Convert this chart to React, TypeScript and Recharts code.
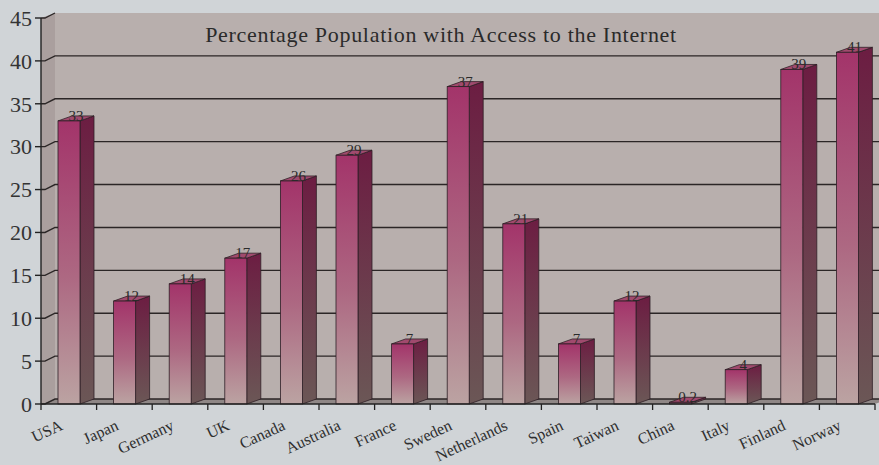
import { BarChart, Bar, XAxis, YAxis, CartesianGrid, ReferenceArea, LabelList } from "recharts";

const countries = [
  "USA", "Japan", "Germany", "UK", "Canada", "Australia", "France", "Sweden",
  "Netherlands", "Spain", "Taiwan", "China", "Italy", "Finland", "Norway",
];
const access = [33, 12, 14, 17, 26, 29, 7, 37, 21, 7, 12, 0.2, 4, 39, 41];
const yTicks = [0, 5, 10, 15, 20, 25, 30, 35, 40, 45];

const data = countries.map((c, i) => ({ country: c, value: access[i] }));

const DX = 14; // depth offset of the 3d look
const DY = 5;
const SERIF = "'Liberation Serif', 'Times New Roman', serif";

const Wall = (props: any) => {
  const { x, y, width, height } = props;
  const b = y + height;
  return (
    <g>
      <rect x={x + DX} y={y - DY} width={width + DX} height={height} fill="#b8afad" />
      <polygon
        points={`${x},${y} ${x + DX},${y - DY} ${x + DX},${b - DY} ${x},${b}`}
        fill="#aa9f9e"
      />
      <polygon
        points={`${x},${b} ${x + DX},${b - DY} ${x + width + DX},${b - DY} ${x + width},${b}`}
        fill="#8f8786"
      />
    </g>
  );
};

const gridLine = (props: any) => {
  const { x1, y1, x2, index } = props;
  if (y1 < 25) {
    return (
      <path key={`g${index}`} d={`M${x1},${y1} L${x1 + 4},${y1} L${x1 + DX},${y1 - DY}`} stroke="#2b2626" strokeWidth={1.3} fill="none" />
    );
  }
  return (
    <path
      key={`g${index}`}
      d={`M${x1},${y1} L${x1 + 4},${y1} L${x1 + DX},${y1 - DY} L${x2 + DX},${y1 - DY}`}
      stroke="#2b2626"
      strokeWidth={1.4}
      fill="none"
    />
  );
};

const Bar3D = (props: any) => {
  const { x, y, width, height } = props;
  const w = width;
  const h = Math.max(height, 0.5);
  return (
    <g>
      <polygon
        points={`${x + w},${y} ${x + w + DX},${y - DY} ${x + w + DX},${y + h - DY} ${x + w},${y + h}`}
        fill="url(#sideGrad)"
        stroke="#2e1f26"
        strokeWidth={0.8}
      />
      <polygon
        points={`${x},${y} ${x + DX},${y - DY} ${x + w + DX},${y - DY} ${x + w},${y}`}
        fill="#a04a6e"
        stroke="#2e1f26"
        strokeWidth={0.8}
      />
      <rect x={x} y={y} width={w} height={h} fill="url(#frontGrad)" stroke="#2e1f26" strokeWidth={0.8} />
    </g>
  );
};

const BAND = 834 / 15;

const CountryTick = (props: any) => {
  const { x, y, payload, index } = props;
  const tx = x - 5;
  const ty = y + 25;
  return (
    <g>
      <line x1={x - BAND / 2} y1={y} x2={x - BAND / 2} y2={y + 6} stroke="#222" strokeWidth={1.3} />
      {index === countries.length - 1 && (
        <line x1={x + BAND / 2} y1={y} x2={x + BAND / 2} y2={y + 6} stroke="#222" strokeWidth={1.3} />
      )}
      <text
        x={tx}
        y={ty}
        textAnchor="end"
        transform={`rotate(-25 ${tx} ${ty})`}
        fontFamily={SERIF}
        fontSize={16}
        fill="#2e2e2e"
      >
        {payload.value}
      </text>
    </g>
  );
};

const TopLabel = (props: any) => {
  const { x, y, width, value } = props;
  return (
    <text
      x={x + width / 2 + DX / 2}
      y={y}
      textAnchor="middle"
      fontFamily={SERIF}
      fontSize={15}
      fill="#2a2a2a"
    >
      {value}
    </text>
  );
};

export default function App() {
  return (
    <div style={{ position: "absolute", left: 0, top: 0, width: 879, height: 465, background: "#d0d4d7" }}>
      <BarChart
        width={879}
        height={465}
        data={data}
        margin={{ top: 18, right: 4, bottom: 0, left: 0 }}
        barSize={22}
      >
        <defs>
          <linearGradient id="frontGrad" x1="0" y1="0" x2="0" y2="1">
            <stop offset="0%" stopColor="#a3346a" />
            <stop offset="55%" stopColor="#ad6882" />
            <stop offset="100%" stopColor="#bba3a2" />
          </linearGradient>
          <linearGradient id="sideGrad" x1="0" y1="0" x2="0" y2="1">
            <stop offset="0%" stopColor="#6c1d42" />
            <stop offset="100%" stopColor="#6b5756" />
          </linearGradient>
        </defs>
        <ReferenceArea y1={0} y2={45} shape={<Wall />} ifOverflow="visible" zIndex={-200} />
        <CartesianGrid vertical={false} horizontal={gridLine} />
        <XAxis
          dataKey="country"
          height={61}
          interval={0}
          tickLine={false}
          tickSize={0}
          tickMargin={0}
          axisLine={{ stroke: "#222", strokeWidth: 1.4 }}
          tick={<CountryTick />}
        />
        <YAxis
          width={41}
          domain={[0, 45]}
          ticks={yTicks}
          interval={0}
          tickSize={6}
          tickMargin={3}
          tickLine={{ stroke: "#222", strokeWidth: 1.4 }}
          axisLine={{ stroke: "#222", strokeWidth: 1.4 }}
          tick={{ fill: "#333", fontSize: 22, fontFamily: SERIF }}
        />
        <Bar dataKey="value" shape={<Bar3D />} isAnimationActive={false}>
          <LabelList dataKey="value" content={<TopLabel />} />
        </Bar>
        <text
          x={441}
          y={42}
          textAnchor="middle"
          fontFamily={SERIF}
          fontSize={22}
          letterSpacing={0.7}
          fill="#2a2a2a"
        >
          Percentage Population with Access to the Internet
        </text>
      </BarChart>
    </div>
  );
}
